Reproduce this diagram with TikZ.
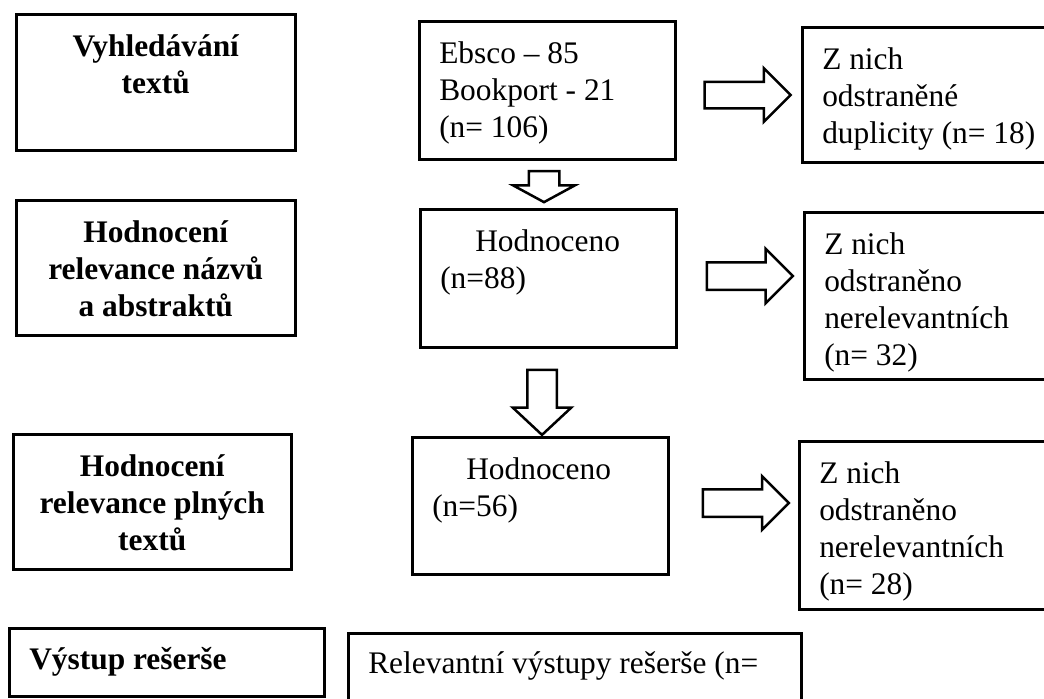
\documentclass[tikz,border=0pt]{standalone}
\usepackage{fontspec}
\setmainfont{Liberation Serif}
\usetikzlibrary{shapes.arrows}

\begin{document}
\begin{tikzpicture}[x=0.5pt,y=-0.5pt,line width=1.25pt,font=\fontsize{15.7}{18.5}\selectfont]
  \tikzstyle{txtbox}=[draw=black,anchor=north west,inner xsep=10pt,inner ysep=0pt,text height=21pt,align=flush left]
  \tikzstyle{stagebox}=[txtbox,inner xsep=0pt,align=flush center,font=\fontsize{15.7}{18.5}\selectfont\bfseries]
  \tikzstyle{blockarrow}=[draw=black,single arrow,inner xsep=0pt]
  \useasboundingbox (0,0) rectangle (1044,698);
  \clip (0,0) rectangle (1044,698);

  % stages
  \node[stagebox,text width=139.5pt,text depth=47pt]   (A1) at (15,13)  {Vyhledávání\\textů};
  \node[stagebox,text width=139.5pt,text depth=46.5pt] (A2) at (15,199) {Hodnocení\\relevance názvů\\a abstraktů};
  \node[stagebox,text width=139pt,text depth=46.5pt]   (A3) at (12,433) {Hodnocení\\relevance plných\\textů};
  \node[txtbox,text width=137.5pt,text height=20.5pt,text depth=13.5pt,font=\fontsize{15.7}{18.5}\selectfont\bfseries]
                                                       (A4) at (8,627)  {Výstup rešerše};

  % counts
  \node[txtbox,text width=108pt,text depth=48pt]   (B1) at (418,20)  {Ebsco – 85\\Bookport - 21\\(n= 106)};
  \node[txtbox,text width=108pt,text depth=48pt]   (B2) at (419,208) {\hspace*{17.5pt}Hodnoceno\\(n=88)};
  \node[txtbox,text width=108pt,text depth=47.5pt] (B3) at (411,436) {\hspace*{17pt}Hodnoceno\\(n=56)};
  \node[txtbox,text width=206.5pt,text height=20pt,text depth=14pt] (B4) at (347,632) {Relevantní výstupy rešerše (n=};

  % removed
  \node[txtbox,text width=119.5pt,text depth=46.5pt] (C1) at (801,26)  {Z nich\\odstraněné\\duplicity (n= 18)};
  \node[txtbox,text width=119.5pt,text depth=62.5pt] (C2) at (803,211) {Z nich\\odstraněno\\nerelevantních\\(n= 32)};
  \node[txtbox,text width=121pt,text depth=63pt]     (C3) at (798,440) {Z nich\\odstraněno\\nerelevantních\\(n= 28)};

  % arrows
  \node[blockarrow,inner ysep=6pt,single arrow head extend=6.75pt,single arrow tip angle=90,minimum height=43pt] (R1) at (741,95) {};
  \node[blockarrow,inner ysep=6.25pt,single arrow head extend=6.75pt,single arrow tip angle=90,minimum height=43pt] (R2) at (743,276) {};
  \node[blockarrow,inner ysep=6.25pt,single arrow head extend=6.5pt,single arrow tip angle=90,minimum height=43pt] (R3) at (739,503) {};
  \node[blockarrow,rotate=-90,inner ysep=7pt,single arrow head extend=7.75pt,single arrow tip angle=123,minimum height=15.5pt] (D1) at (544,182.5) {};
  \node[blockarrow,rotate=-90,inner ysep=6.75pt,single arrow head extend=7.25pt,single arrow tip angle=94,minimum height=32.5pt] (D2) at (542,395.5) {};
\end{tikzpicture}
\end{document}
